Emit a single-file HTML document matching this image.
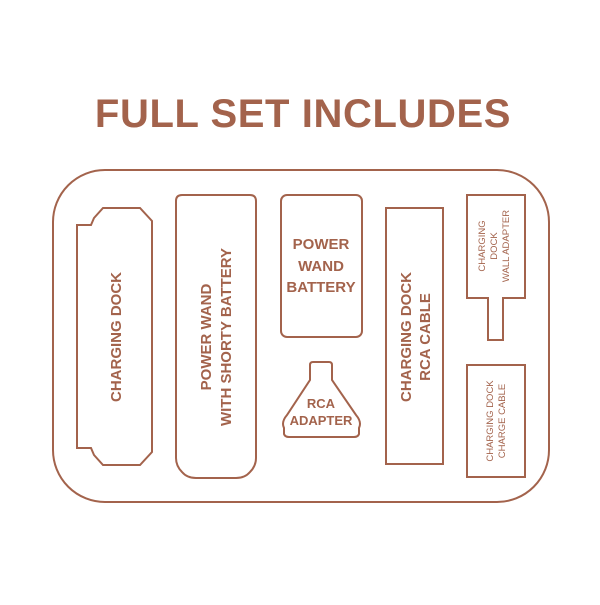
<!DOCTYPE html>
<html><head><style>html,body{margin:0;padding:0;background:#fff}</style></head><body>
<svg width="600" height="600" viewBox="0 0 600 600" xmlns="http://www.w3.org/2000/svg" font-family="Liberation Sans, sans-serif" font-weight="bold" fill="#a3634c">
<text x="303" y="127" font-size="40" text-anchor="middle" letter-spacing="0.6">FULL SET INCLUDES</text>
<g fill="none" stroke="#a3634c" stroke-width="2">
<rect x="53" y="170" width="496" height="332" rx="52"/>
<path d="M77,225 L91,225 L94,218 L103,208 L140,208 L152,221 L152,452 L140,465 L103,465 L94,455 L91,448 L77,448 Z"/>
<path d="M182,195 L250,195 Q256,195 256,201 L256,458 Q256,466 250,472 Q245,478 236,478 L196,478 Q187,478 182,472 Q176,466 176,458 L176,201 Q176,195 182,195 Z"/>
<rect x="281" y="195" width="81" height="142" rx="6"/>
<path d="M310,380 L310,365 Q310,362 313,362 L329,362 Q332,362 332,365 L332,380 L356,415 Q362,422 359,428 L359,434 Q358,437 354,437 L289,437 Q285,437 284,434 L284,428 Q281,422 287,415 Z"/>
<rect x="386" y="208" width="57" height="256"/>
<path d="M467,195 L525,195 L525,298 L503,298 L503,340 L488,340 L488,298 L467,298 Z"/>
<rect x="467" y="365" width="58" height="112"/>
</g>
<g font-size="15" text-anchor="middle">
<text transform="translate(121,337) rotate(-90)">CHARGING DOCK</text>
<text transform="translate(211,337) rotate(-90)">POWER WAND</text>
<text transform="translate(231,337) rotate(-90)">WITH SHORTY BATTERY</text>
<text x="321" y="249">POWER</text>
<text x="321" y="271">WAND</text>
<text x="321" y="292">BATTERY</text>
<text transform="translate(411,337) rotate(-90)">CHARGING DOCK</text>
<text transform="translate(430,337) rotate(-90)">RCA CABLE</text>
</g>
<g font-size="13" text-anchor="middle">
<text x="321" y="408">RCA</text>
<text x="321" y="425">ADAPTER</text>
</g>
<g font-size="9.5" font-weight="normal" text-anchor="middle">
<text transform="translate(485,246) rotate(-90)">CHARGING</text>
<text transform="translate(497,246) rotate(-90)">DOCK</text>
<text transform="translate(509,246) rotate(-90)">WALL ADAPTER</text>
<text transform="translate(493,421) rotate(-90)">CHARGING DOCK</text>
<text transform="translate(505,421) rotate(-90)">CHARGE CABLE</text>
</g>
</svg>
</body></html>
